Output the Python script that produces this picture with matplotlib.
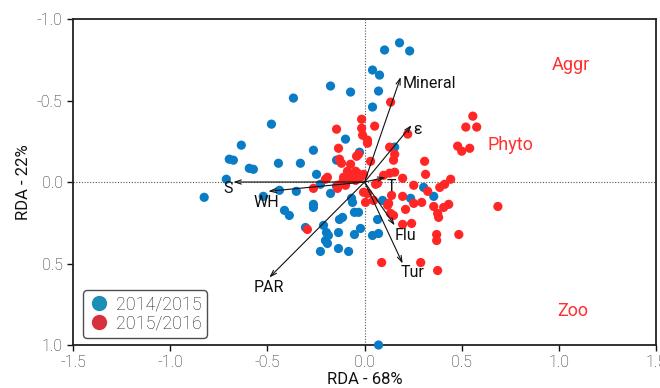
import matplotlib
matplotlib.use("Agg")
import matplotlib.pyplot as plt
from matplotlib.lines import Line2D

plt.rcParams['font.family'] = ['Roboto', 'DejaVu Sans']
plt.rcParams['font.weight'] = 'light'
plt.rcParams['axes.unicode_minus'] = False

# site scores, season 2014/2015
blue_x = [0.18, 0.103, 0.232, 0.041, 0.077, -0.175, -0.072, 0.072, -0.366, 0.041,
          -0.479, -0.098, -0.634, -0.263, -0.026, 0.155, -0.696, -0.675, -0.443, -0.33,
          -0.144, -0.593, -0.572, -0.247, -0.711, -0.227, -0.175, -0.438, -0.351, -0.825,
          -0.521, -0.144, -0.263, -0.263, -0.412, -0.387, -0.304, -0.211, -0.196, -0.186,
          -0.201, -0.191, -0.134, -0.227, -0.134, -0.082, -0.129, -0.113, -0.067, -0.062,
          -0.052, -0.031, -0.021, -0.052, 0.067, 0.041, 0.072, 0.093, 0.237, 0.304,
          0.356, 0.072]
blue_y = [-0.854, -0.81, -0.804, -0.687, -0.656, -0.589, -0.552, -0.558, -0.515, -0.46,
          -0.355, -0.263, -0.226, -0.195, -0.183, -0.214, -0.14, -0.134, -0.115, -0.115,
          -0.134, -0.084, -0.078, -0.047, -0.017, 0.014, 0.07, 0.051, 0.057, 0.094,
          0.088, 0.026, 0.137, 0.156, 0.174, 0.205, 0.279, 0.266, 0.31, 0.328,
          0.359, 0.377, 0.31, 0.426, 0.408, 0.426, 0.23, 0.217, 0.1, 0.125,
          0.186, 0.186, 0.285, 0.322, 0.23, 0.328, 0.316, 0.113, 0.1, 0.033,
          0.088, 1.0]

# site scores, season 2015/2016
red_x = [0.134, -0.015, -0.015, -0.01, 0.052, -0.144, 0.015, 0.015, -0.134, -0.041,
         -0.031, 0.031, 0.129, 0.155, 0.149, -0.129, -0.119, -0.072, -0.088, -0.046,
         -0.036, -0.005, -0.191, -0.201, -0.108, -0.082, -0.113, 0.098, 0.129, 0.155,
         0.196, 0.067, 0.222, 0.253, 0.557, 0.521, 0.577, 0.479, 0.5, 0.541,
         0.309, 0.314, 0.387, 0.412, 0.443, 0.325, 0.196, 0.253, 0.294, 0.356,
         0.407, 0.433, 0.211, 0.376, 0.381, 0.196, 0.242, 0.371, 0.371, 0.485,
         0.686, 0.289, 0.376, 0.088, 0.124, 0.139, -0.263, -0.139, 0.057, 0.015,
         0.005, 0.046, 0.119, 0.134, 0.149, -0.294, -0.139, -0.098, -0.005, -0.046,
         -0.021, -0.062]
red_y = [-0.49, -0.385, -0.33, -0.287, -0.343, -0.324, -0.257, -0.238, -0.207, -0.158,
         -0.17, -0.127, -0.214, -0.17, -0.134, -0.14, -0.115, -0.109, -0.066, -0.066,
         -0.054, -0.047, -0.029, -0.017, -0.029, -0.017, 0.002, -0.041, -0.054, -0.06,
         -0.023, 0.008, -0.294, 0.02, -0.404, -0.337, -0.337, -0.22, -0.189, -0.207,
         -0.127, -0.047, 0.033, 0.014, -0.017, 0.057, 0.088, 0.131, 0.125, 0.15,
         0.156, 0.137, 0.168, 0.193, 0.217, 0.26, 0.254, 0.322, 0.359, 0.322,
         0.15, 0.494, 0.543, 0.494, 0.131, 0.082, 0.039, 0.02, 0.014, 0.07,
         0.125, 0.113, 0.143, 0.193, 0.205, 0.291, 0.039, 0.02, 0.063, -0.01,
         -0.029, -0.035]

# environmental vectors
env_names = ['Mineral', 'ε', 'T', 'S', 'WH', 'PAR', 'Flu', 'Tur']
env_x = [0.186, 0.242, 0.108, -0.675, -0.495, -0.49, 0.155, 0.196]
env_y = [-0.644, -0.349, -0.029, 0.0, 0.057, 0.586, 0.266, 0.50]
label_x = [0.196, 0.25, 0.14, -0.70, -0.505, -0.495, 0.21, 0.245]
label_y = [-0.607, -0.32, 0.03, 0.04, 0.125, 0.65, 0.33, 0.555]
label_ha = ['left', 'left', 'center', 'center', 'center', 'center', 'center', 'center']

# response groups
group_names = ['Aggr', 'Phyto', 'Zoo']
group_x = [1.06, 0.75, 1.07]
group_y = [-0.715, -0.225, 0.79]

fig = plt.figure(figsize=(6.6, 3.88), dpi=100)
ax = fig.add_axes([0.1106, 0.1108, 0.8835, 0.8402])

ax.axhline(0, color='#555555', lw=0.8, ls=(0, (1, 1.5)), zorder=1)
ax.axvline(0, color='#555555', lw=0.8, ls=(0, (1, 1.5)), zorder=1)

ax.scatter(blue_x, blue_y, s=44, color='#0a7cc6', edgecolors='none', zorder=3, clip_on=False)
ax.scatter(red_x, red_y, s=44, color='#ff2626', edgecolors='none', zorder=3)

for i in range(len(env_names)):
    ax.annotate('', xy=(env_x[i], env_y[i]), xytext=(0, 0),
                arrowprops=dict(arrowstyle='->,head_length=0.45,head_width=0.15',
                                color='#111111', lw=0.8, shrinkA=0, shrinkB=0),
                zorder=4)
    ax.text(label_x[i], label_y[i], env_names[i], ha=label_ha[i], va='center',
            fontsize=11.5, color='#111111', fontweight='normal', zorder=5)

for i in range(len(group_names)):
    ax.text(group_x[i], group_y[i], group_names[i], ha='center', va='center',
            fontsize=13, color='#ff3030', fontweight='normal')

ax.set_xlim(-1.5, 1.5)
ax.set_ylim(1.0, -1.0)
ax.set_xticks([-1.5, -1.0, -0.5, 0.0, 0.5, 1.0, 1.5])
ax.set_yticks([-1.0, -0.5, 0.0, 0.5, 1.0])
ax.tick_params(direction='out', length=4, width=1, labelsize=11.5, colors='#111111',
               labelcolor='#222222')
for sp in ax.spines.values():
    sp.set_linewidth(1.3)
    sp.set_color('#222222')

ax.set_xlabel('RDA - 68%', fontsize=12, color='#111111', fontweight='normal', labelpad=1)
ax.set_ylabel('RDA - 22%', fontsize=12, color='#111111', fontweight='normal', labelpad=4)

handles = [Line2D([], [], marker='o', ls='none', markersize=10, color='#1b8fb5', label='2014/2015'),
           Line2D([], [], marker='o', ls='none', markersize=10, color='#d9303e', label='2015/2016')]
leg = ax.legend(handles=handles, loc='lower left', fontsize=13, frameon=True, fancybox=True,
                edgecolor='#222222', handletextpad=0.3, borderpad=0.3, labelspacing=0.05,
                handlelength=1.2, borderaxespad=0.4, bbox_to_anchor=(0.005, 0.0))
leg.get_frame().set_linewidth(1.0)
for t in leg.get_texts():
    t.set_color('#222222')

fig.savefig('out.png', dpi=100)
